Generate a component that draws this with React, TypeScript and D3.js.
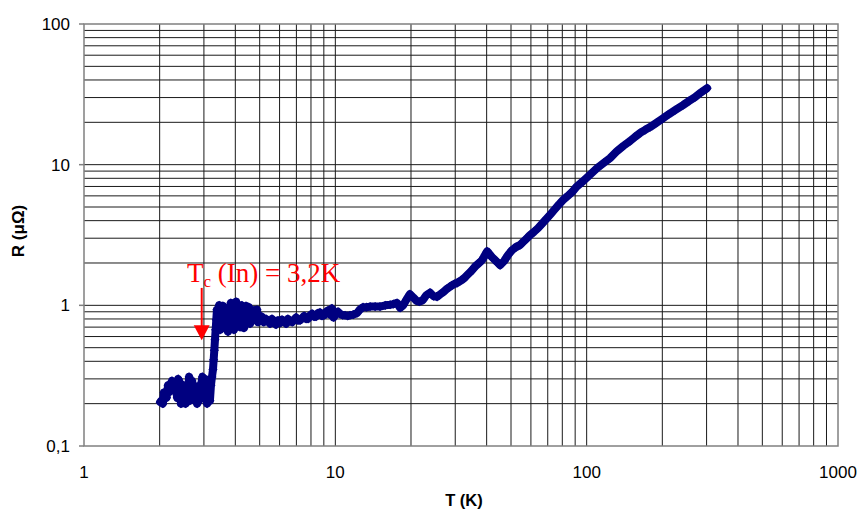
import React from 'react';
import * as d3 from 'd3';

// ---- Data ----
const T_VALUES: number[] = [
  2.01, 2.03, 2.06, 2.08, 2.1, 2.13, 2.16, 2.18, 2.2, 2.24, 2.26, 2.28, 2.32, 2.35, 2.37, 2.41, 2.43, 2.45,
  2.49, 2.52, 2.54, 2.56, 2.59, 2.62, 2.64, 2.69, 2.72, 2.74, 2.79, 2.82, 2.84, 2.87, 2.9, 2.93, 2.96, 2.98,
  3.01, 3.03, 3.06, 3.09, 3.11, 3.14, 3.17, 3.2, 3.23,
  3.26, 3.28, 3.3, 3.32, 3.34, 3.36, 3.38,
  3.42, 3.45, 3.48, 3.51, 3.54, 3.57, 3.61, 3.64, 3.67, 3.7, 3.74, 3.77, 3.81, 3.84, 3.88, 3.91, 3.95, 3.99,
  4.03, 4.06, 4.1, 4.14, 4.18, 4.21, 4.25, 4.29, 4.33, 4.37, 4.41, 4.45, 4.49, 4.53, 4.58, 4.62, 4.66, 4.7,
  4.75, 4.79, 4.84, 4.88, 4.93, 4.97, 5.02, 5.1, 5.2, 5.3, 5.4, 5.5, 5.6, 5.7, 5.81, 5.92, 6.03, 6.14, 6.25,
  6.37, 6.48, 6.6, 6.73, 6.85, 6.98, 7.1, 7.24, 7.37, 7.51, 7.65, 7.79, 7.93, 8.08, 8.23, 8.38, 8.53, 8.69,
  8.85, 9.02, 9.18, 9.36, 9.53, 9.7, 9.85, 10.06, 10.25, 10.44, 10.7, 10.93, 11.2, 11.44, 11.8, 12.2, 12.5,
  12.89, 13.3, 13.75, 14.4, 15.06, 15.8, 16.51, 17.0, 17.6, 18.1, 18.6, 19.2, 19.8, 20.4, 21.0, 21.6, 22.3,
  23.0, 23.8, 24.6, 25.4, 26.2, 27.0, 27.8, 28.5, 29.14, 29.8, 30.51, 31.2, 31.94, 32.7, 33.44, 34.4, 35.32,
  36.1, 36.98, 37.7, 38.36, 39.0, 39.42, 40.16, 40.7, 41.28, 42.0, 42.82, 43.4, 44.01, 44.6, 45.24, 46.1,
  46.93, 47.8, 48.67, 49.6, 50.48, 51.4, 52.37, 53.3, 54.32, 55.6, 56.87, 58.2, 59.54, 61.7, 64.07, 66.7,
  69.58, 72.2, 74.84, 77.6, 80.54, 84.0, 87.48, 91.4, 96.8, 103.2, 110.0, 117.0, 123.9, 132.1, 140.0, 148.8,
  156.0, 163.2, 171.0, 178.8, 190.0, 201.4, 212.0, 224.8, 241.8, 255.0, 270.0, 285.0, 301.3,
];

const R_VALUES: number[] = [
  0.205, 0.21, 0.2, 0.24, 0.23, 0.22, 0.27, 0.24, 0.26, 0.29, 0.26, 0.28, 0.25, 0.22, 0.3, 0.28, 0.2, 0.24,
  0.27, 0.22, 0.2, 0.26, 0.24, 0.31, 0.21, 0.29, 0.23, 0.27, 0.26, 0.2, 0.23, 0.21, 0.23, 0.28, 0.31, 0.27,
  0.24, 0.3, 0.22, 0.2, 0.25, 0.29, 0.21, 0.27, 0.31,
  0.35, 0.41, 0.48, 0.57, 0.67, 0.79, 0.93,
  0.75, 1.0, 0.67, 0.92, 0.74, 0.99, 0.69, 0.87, 0.76, 0.95, 0.65, 0.9, 0.81, 1.04, 0.76, 0.97, 0.67, 0.87,
  1.06, 0.74, 0.96, 0.81, 0.7, 0.9, 1.0, 0.79, 0.69, 0.87, 0.99, 0.84, 0.76, 0.97, 0.74, 0.88, 0.8, 0.86,
  0.92, 0.79, 0.78, 0.93, 0.76, 0.85, 0.79, 0.83, 0.76, 0.8, 0.77, 0.74, 0.8, 0.76, 0.73, 0.78, 0.75, 0.79, 0.77,
  0.74, 0.8, 0.77, 0.76, 0.79, 0.82, 0.78, 0.78, 0.81, 0.84, 0.8, 0.8, 0.85, 0.87, 0.83, 0.83, 0.88, 0.89,
  0.84, 0.85, 0.9, 0.92, 0.86, 0.95, 0.82, 0.87, 0.9, 0.87, 0.85, 0.85, 0.84, 0.85, 0.86, 0.88, 0.93,
  0.97, 0.97, 0.98, 0.98, 0.98, 1.0, 1.01, 1.02, 1.04, 0.96, 1.0, 1.1, 1.2, 1.14, 1.08, 1.06, 1.09,
  1.18, 1.23, 1.16, 1.15, 1.2, 1.25, 1.31, 1.35, 1.39, 1.42, 1.44, 1.48, 1.52, 1.57, 1.64, 1.72, 1.81,
  1.9, 1.97, 2.03, 2.1, 2.2, 2.28, 2.42, 2.36, 2.28, 2.2, 2.13, 2.08, 2.03, 1.98, 1.93, 2.0,
  2.06, 2.17, 2.28, 2.38, 2.47, 2.53, 2.6, 2.64, 2.68, 2.8, 2.91, 3.03, 3.16, 3.33, 3.54, 3.83,
  4.17, 4.49, 4.84, 5.22, 5.6, 5.98, 6.39, 7.0, 7.64, 8.5, 9.46, 10.3, 11.14, 12.5, 13.6, 14.72,
  15.8, 16.8, 17.7, 18.5, 19.9, 21.4, 22.8, 24.4, 26.5, 28.3, 30.2, 32.6, 35.0,
];

const X_TICKS = [1, 10, 100, 1000];
const X_TICK_LABELS = ['1', '10', '100', '1000'];
const Y_TICKS = [0.1, 1, 10, 100];
const Y_TICK_LABELS = ['0,1', '1', '10', '100'];
const X_TITLE = 'T (K)';
const Y_TITLE = 'R (μΩ)';
const ANNOTATION_MAIN = 'T';
const ANNOTATION_SUB = 'c';
const ANNOTATION_REST = ' (In) = 3,2K';
const ARROW_T = 2.94;
const ARROW_R_START = 1.33;
const ARROW_R_END = 0.565;
const LABEL_T = 2.57;
const LABEL_R = 1.46;

export default function App() {
  const W = 861;
  const H = 514;
  const left = 84;
  const right = 838;
  const top = 24;
  const bottom = 446;

  const x = d3.scaleLog().domain([1, 1000]).range([left, right]);
  const y = d3.scaleLog().domain([0.1, 100]).range([bottom, top]);

  const minorX: number[] = [];
  [1, 10, 100].forEach((d) => {
    for (let k = 2; k <= 9; k++) minorX.push(d * k);
  });
  const minorY: number[] = [];
  [0.1, 1, 10].forEach((d) => {
    for (let k = 2; k <= 9; k++) minorY.push(d * k);
  });

  const pts = T_VALUES.map((t, i) => [t, R_VALUES[i]] as [number, number]);
  const line = d3
    .line<[number, number]>()
    .x((d) => x(d[0]))
    .y((d) => y(d[1]));

  const r = 4.6;
  const diamond = `M0,${-r}L${r},0L0,${r}L${-r},0Z`;

  const font = "'Liberation Sans', Arial, sans-serif";
  const gridColor = '#1a1a1a';
  const frameColor = '#808080';

  const ax = x(ARROW_T);
  const ay0 = y(ARROW_R_START);
  const ay1 = y(ARROW_R_END);
  const headLen = 15;
  const headHalf = 8;

  return (
    <svg
      width={W}
      height={H}
      style={{ position: 'absolute', left: 0, top: 0, background: '#fff' }}
      xmlns="http://www.w3.org/2000/svg"
    >
      <rect x={0} y={0} width={W} height={H} fill="#fff" />
      {/* minor grid */}
      {minorX.map((v) => (
        <line key={'mx' + v} x1={x(v)} x2={x(v)} y1={top} y2={bottom} stroke={gridColor} strokeWidth={1} />
      ))}
      {minorY.map((v) => (
        <line key={'my' + v} x1={left} x2={right} y1={y(v)} y2={y(v)} stroke={gridColor} strokeWidth={1} />
      ))}
      {/* major grid */}
      {X_TICKS.slice(1, -1).map((v) => (
        <line key={'Mx' + v} x1={x(v)} x2={x(v)} y1={top} y2={bottom} stroke={gridColor} strokeWidth={1} />
      ))}
      {Y_TICKS.slice(1, -1).map((v) => (
        <line key={'My' + v} x1={left} x2={right} y1={y(v)} y2={y(v)} stroke={gridColor} strokeWidth={1} />
      ))}
      {/* frame */}
      <rect x={left} y={top} width={right - left} height={bottom - top} fill="none" stroke={frameColor} strokeWidth={1.5} />
      {/* y ticks */}
      {Y_TICKS.map((v) => (
        <line key={'yt' + v} x1={left - 5} x2={left} y1={y(v)} y2={y(v)} stroke={frameColor} strokeWidth={1.5} />
      ))}
      {/* tick labels */}
      {Y_TICKS.map((v, i) => (
        <text
          key={'yl' + v}
          x={left - 14}
          y={y(v)}
          dy="0.36em"
          textAnchor="end"
          fontFamily={font}
          fontSize={17}
          fill="#000"
        >
          {Y_TICK_LABELS[i]}
        </text>
      ))}
      {X_TICKS.map((v, i) => (
        <text
          key={'xl' + v}
          x={x(v)}
          y={bottom + 26}
          dy="0.36em"
          textAnchor="middle"
          fontFamily={font}
          fontSize={17}
          fill="#000"
        >
          {X_TICK_LABELS[i]}
        </text>
      ))}
      {/* axis titles */}
      <text x={(left + right) / 2 + 3} y={506} textAnchor="middle" fontFamily={font} fontSize={16.5} fontWeight="bold">
        {X_TITLE}
      </text>
      <text
        transform={`translate(24,${(top + bottom) / 2 - 4}) rotate(-90)`}
        textAnchor="middle"
        fontFamily={font}
        fontSize={17}
        fontWeight="bold"
      >
        {Y_TITLE}
      </text>
      {/* data */}
      <path d={line(pts) || ''} fill="none" stroke="#000080" strokeWidth={8} strokeLinejoin="round" strokeLinecap="round" />
      {pts.map((p, i) => (
        <path key={'p' + i} d={diamond} transform={`translate(${x(p[0])},${y(p[1])})`} fill="#000080" />
      ))}
      {/* annotation */}
      <line x1={ax} x2={ax} y1={ay0} y2={ay1 - headLen + 1} stroke="#ff0000" strokeWidth={2} />
      <path
        d={`M${ax - headHalf},${ay1 - headLen}L${ax + headHalf},${ay1 - headLen}L${ax},${ay1}Z`}
        fill="#ff0000"
      />
      <text x={x(LABEL_T)} y={y(LABEL_R)} fontFamily="'Liberation Serif', 'Times New Roman', serif" fontSize={27} fill="#ff0000">
        {ANNOTATION_MAIN}
        <tspan fontSize={17} dy={5}>
          {ANNOTATION_SUB}
        </tspan>
        <tspan dy={-5}>{ANNOTATION_REST}</tspan>
      </text>
    </svg>
  );
}
